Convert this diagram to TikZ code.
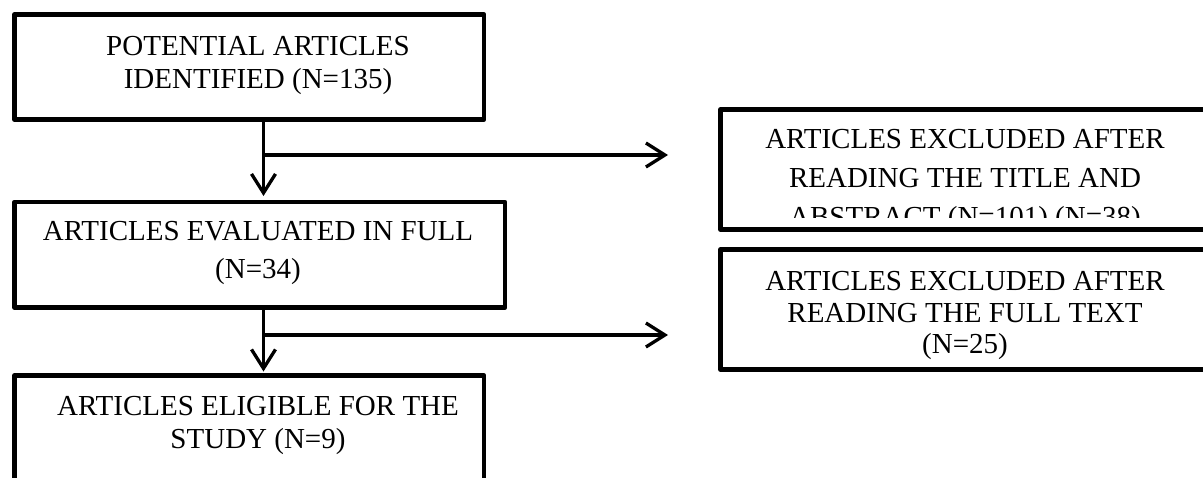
\documentclass[tikz,border=0pt]{standalone}
\usepackage{fontspec}
\setmainfont{Liberation Serif}
\usetikzlibrary{arrows.meta}
\begin{document}
\begin{tikzpicture}[x=1pt,y=-1pt,
  box/.style={draw=black, line width=4.5pt, rectangle, inner sep=0pt, outer sep=0pt, anchor=north west, line join=round},
  txt/.style={anchor=base, inner sep=0pt, font=\fontsize{29}{33}\selectfont},
  conn/.style={draw=black, line width=3.3pt},
  arr/.style={conn, -{Straight Barb[length=19pt,width=24pt]}}]
\useasboundingbox (0,0) rectangle (1203,477);
\clip (0,0) rectangle (1203,477);
% boxes
\node[box, minimum width=469.5pt, minimum height=105pt] (b1) at (14.5,14.5) {};
\node[box, minimum width=490.5pt, minimum height=105.5pt] (b2) at (14.5,202) {};
\node[box, minimum width=469.5pt, minimum height=160pt] (b3) at (14.5,375.5) {};
\node[box, minimum width=499.5pt, minimum height=120pt] (b4) at (720.5,109.5) {};
\node[box, minimum width=499.5pt, minimum height=120pt] (b5) at (720.5,249.5) {};
% texts
\node[txt] (t1a) at (258,55) {POTENTIAL ARTICLES};
\node[txt] (t1b) at (258,88) {IDENTIFIED (N=135)};
\node[txt] (t2a) at (258,240) {ARTICLES EVALUATED IN FULL};
\node[txt] (t2b) at (258,278) {(N=34)};
\node[txt] (t3a) at (258,415) {ARTICLES ELIGIBLE FOR THE};
\node[txt] (t3b) at (258,448) {STUDY (N=9)};
\begin{scope}
\clip (723,112) rectangle (1203,217);
\node[txt] (t4a) at (965,148) {ARTICLES EXCLUDED AFTER};
\node[txt] (t4b) at (965,187) {READING THE TITLE AND};
\node[txt] (t4c) at (965,226) {ABSTRACT (N=101) (N=38)};
\end{scope}
\node[txt] (t5a) at (965,290) {ARTICLES EXCLUDED AFTER};
\node[txt] (t5b) at (965,322) {READING THE FULL TEXT};
\node[txt] (t5c) at (965,353) {(N=25)};
% connectors
\coordinate (j1) at (263.5,155);
\coordinate (e1) at (668,155);
\coordinate (j2) at (263.5,335);
\coordinate (e2) at (668,335);
\draw[arr, shorten >=6pt] (b1.south -| j1) -- (b2.north -| j1);
\draw[arr] (j1) -- (e1);
\draw[arr, shorten >=4pt] (b2.south -| j2) -- (b3.north -| j2);
\draw[arr] (j2) -- (e2);
\end{tikzpicture}
\end{document}
